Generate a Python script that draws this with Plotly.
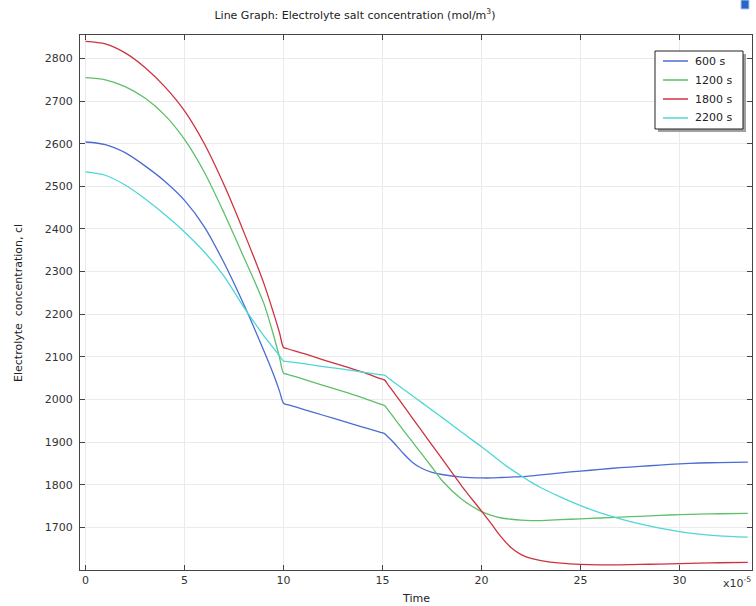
import plotly.graph_objects as go

# Time (x 1e-5)
time = [0, 1, 2, 3, 4, 5, 6, 7, 8, 9, 9.5, 9.8, 10, 10.2, 11, 12, 13, 14, 14.9, 15.1, 15.3,
        15.5, 16, 16.5, 17, 17.5, 18, 19, 20, 20.5, 21, 21.5, 22, 22.5, 23, 24, 25, 26,
        27, 28, 29, 30, 31, 32, 33.45]

c_600 = [2604, 2598, 2579, 2548, 2512, 2467, 2405, 2320, 2222, 2115, 2058, 2019, 1991,
         1988, 1977, 1963, 1949, 1935, 1923, 1920, 1911, 1902, 1876, 1853, 1838, 1829,
         1824, 1818, 1816, 1816, 1817, 1818, 1819, 1821, 1823, 1828, 1832, 1836, 1840,
         1843, 1846, 1849, 1851, 1852, 1853]

c_1200 = [2755, 2750, 2734, 2707, 2667, 2610, 2533, 2437, 2333, 2226, 2150, 2098, 2062,
          2059, 2048, 2033, 2019, 2004, 1989, 1986, 1974, 1962, 1931, 1901, 1871, 1841,
          1810, 1766, 1737, 1728, 1722, 1719, 1717, 1716, 1716, 1718, 1720, 1722, 1724,
          1726, 1728, 1730, 1731, 1732, 1733]

c_1800 = [2840, 2834, 2813, 2779, 2734, 2677, 2600, 2503, 2392, 2273, 2202, 2156, 2122,
          2119, 2108, 2093, 2079, 2064, 2049, 2046, 2033, 2021, 1989, 1957, 1925, 1893,
          1861, 1797, 1738, 1708, 1677, 1652, 1636, 1627, 1622, 1616, 1613, 1612, 1612,
          1613, 1614, 1615, 1616, 1617, 1618]

c_2200 = [2534, 2526, 2503, 2471, 2434, 2393, 2346, 2289, 2216, 2150, 2120, 2102, 2090,
          2089, 2084, 2077, 2071, 2064, 2058, 2057, 2050, 2043, 2026, 2009, 1992, 1975,
          1958, 1923, 1889, 1871, 1853, 1836, 1821, 1806, 1793, 1771, 1751, 1734, 1720,
          1708, 1698, 1690, 1684, 1680, 1677]

series_names = ["600 s", "1200 s", "1800 s", "2200 s"]
series_values = [c_600, c_1200, c_1800, c_2200]
series_colors = ["#4a6cd4", "#5fbf6a", "#cc3340", "#4fd6d6"]

x_ticks = [0, 5, 10, 15, 20, 25, 30]
y_ticks = [1700, 1800, 1900, 2000, 2100, 2200, 2300, 2400, 2500, 2600, 2700, 2800]

W, H = 756, 606
ML, MR, MT, MB = 80, 4, 35, 36
PW, PH = W - ML - MR, H - MT - MB


def px_x(p):
    return (p - ML) / PW


def px_y(p):
    return (H - MB - p) / PH


fig = go.Figure()
for name, vals, col in zip(series_names, series_values, series_colors):
    fig.add_trace(go.Scatter(x=time, y=vals, mode="lines", name=name,
                             line=dict(color=col, width=1.3, shape="spline", smoothing=0.8)))

axis_common = dict(showgrid=True, gridcolor="#ebebeb", gridwidth=1,
                   showline=True, linecolor="#444", linewidth=1, mirror="ticks",
                   ticks="inside", ticklen=5, tickcolor="#444", zeroline=False,
                   tickfont=dict(family="DejaVu Sans", size=11, color="#333"))

fig.update_layout(
    width=W, height=H,
    margin=dict(l=ML, r=MR, t=MT, b=MB, pad=0),
    paper_bgcolor="white", plot_bgcolor="white",
    font=dict(family="DejaVu Sans", size=11, color="#333"),
    title=dict(text="Line Graph: Electrolyte salt concentration (mol/m<sup>3</sup>)",
               x=355 / W, xanchor="center", xref="container",
               y=1 - 15 / H, yanchor="middle", yref="container",
               font=dict(family="DejaVu Sans", size=11, color="#222")),
    xaxis=dict(range=[-0.28, 33.66], tickvals=x_ticks, **axis_common),
    yaxis=dict(range=[1600, 2855], tickvals=y_ticks, ticklabelstandoff=4, **axis_common),
    showlegend=False,
)

# legend (drawn manually): shadow, box, line samples, labels
LG_L, LG_R, LG_T, LG_B = 655, 743, 51, 129
fig.add_shape(type="rect", xref="paper", yref="paper",
              x0=px_x(LG_L + 3), x1=px_x(LG_R + 3), y0=px_y(LG_B + 3), y1=px_y(LG_T + 3),
              fillcolor="#a0a0a0", line=dict(width=0), layer="above")
fig.add_shape(type="rect", xref="paper", yref="paper",
              x0=px_x(LG_L), x1=px_x(LG_R), y0=px_y(LG_B), y1=px_y(LG_T),
              fillcolor="white", line=dict(color="#222", width=1), layer="above")
for i, (name, col) in enumerate(zip(series_names, series_colors)):
    yy = 61 + i * 19
    fig.add_shape(type="line", xref="paper", yref="paper",
                  x0=px_x(663), x1=px_x(688), y0=px_y(yy), y1=px_y(yy),
                  line=dict(color=col, width=1.5), layer="above")
    fig.add_annotation(text=name, xref="paper", yref="paper", x=px_x(693), y=px_y(yy),
                       xanchor="left", yanchor="middle", showarrow=False,
                       font=dict(family="DejaVu Sans", size=11, color="#222"))

# small icon top right
fig.add_shape(type="rect", xref="paper", yref="paper",
              x0=px_x(741), x1=px_x(749), y0=px_y(9), y1=px_y(0),
              fillcolor="#2a64c8", line=dict(color="#a9c8ec", width=1), layer="above")

# axis titles and exponent
fig.add_annotation(text="Time", xref="paper", yref="paper", x=px_x(416), y=px_y(598),
                   xanchor="center", yanchor="middle", showarrow=False,
                   font=dict(family="DejaVu Sans", size=11, color="#222"))
fig.add_annotation(text="Electrolyte  concentration, cl", xref="paper", yref="paper",
                   x=px_x(18), y=px_y(303), xanchor="center", yanchor="middle",
                   textangle=-90, showarrow=False,
                   font=dict(family="DejaVu Sans", size=11, color="#222"))
fig.add_annotation(text="x10<sup>-5</sup>", xref="paper", yref="paper",
                   x=px_x(737), y=px_y(582), xanchor="center", yanchor="middle",
                   showarrow=False, font=dict(family="DejaVu Sans", size=11, color="#333"))

fig.write_html("out.html")
